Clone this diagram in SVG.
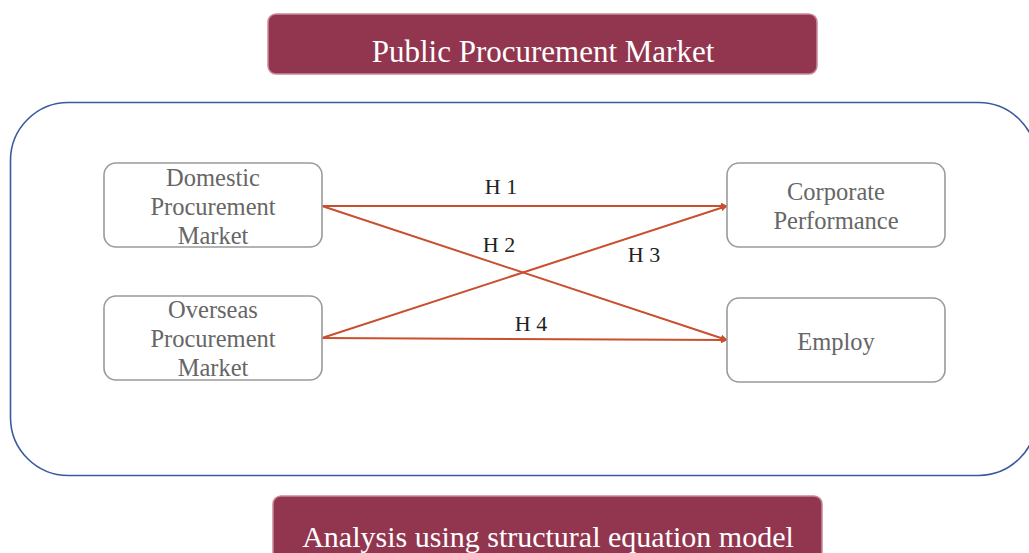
<svg xmlns="http://www.w3.org/2000/svg" width="1029" height="553" viewBox="0 0 1029 553">
<style>
.banner{fill:#92364f;stroke:#c98a9a;stroke-width:1.5}
.btxt{font-family:"Liberation Serif",serif;fill:#ffffff;text-anchor:middle}
.node{fill:#ffffff;stroke:#9a9a9a;stroke-width:1.6}
.ntxt{font-family:"Liberation Serif",serif;font-size:24.5px;fill:#666666;text-anchor:middle}
.edge{stroke:#c9502e;stroke-width:2;fill:none;marker-end:url(#ah)}
.lbl{font-family:"Liberation Serif",serif;font-size:22px;fill:#222222;text-anchor:middle}
</style>
<defs>
<marker id="ah" viewBox="0 0 10 10" refX="9" refY="5" markerWidth="7" markerHeight="7" markerUnits="userSpaceOnUse" orient="auto">
<path d="M0,0 L10,5 L0,10 z" fill="#c9502e"/>
</marker>
</defs>
<rect width="1029" height="553" fill="#ffffff"/>
<g id="frame"><rect x="10.5" y="102.5" width="1026" height="373" rx="58" fill="none" stroke="#3a5a9c" stroke-width="1.6"/></g>
<g id="top-banner"><rect class="banner" x="268" y="14" width="549" height="60" rx="8"/><text class="btxt" x="543" y="62" font-size="31">Public Procurement Market</text></g>
<g id="bottom-banner"><rect class="banner" x="273" y="496" width="549" height="70" rx="8"/><text class="btxt" x="548" y="547" font-size="30">Analysis using structural equation model</text></g>
<g id="connectors">
<line class="edge" x1="322" y1="206" x2="727" y2="206"/>
<line class="edge" x1="322" y1="206" x2="727" y2="340"/>
<line class="edge" x1="322" y1="338" x2="727" y2="206"/>
<line class="edge" x1="322" y1="338" x2="727" y2="340"/>
<text class="lbl" x="501" y="194">H 1</text>
<text class="lbl" x="499" y="252">H 2</text>
<text class="lbl" x="644" y="262">H 3</text>
<text class="lbl" x="531" y="331">H 4</text>
</g>
<g id="domestic"><rect class="node" x="104" y="163" width="218" height="84" rx="12"/><text class="ntxt" x="213" y="186">Domestic</text><text class="ntxt" x="213" y="215">Procurement</text><text class="ntxt" x="213" y="244">Market</text></g>
<g id="overseas"><rect class="node" x="104" y="296" width="218" height="84" rx="12"/><text class="ntxt" x="213" y="318">Overseas</text><text class="ntxt" x="213" y="347">Procurement</text><text class="ntxt" x="213" y="376">Market</text></g>
<g id="corporate"><rect class="node" x="727" y="163" width="218" height="84" rx="12"/><text class="ntxt" x="836" y="200">Corporate</text><text class="ntxt" x="836" y="229">Performance</text></g>
<g id="employ"><rect class="node" x="727" y="298" width="218" height="84" rx="12"/><text class="ntxt" x="836" y="350">Employ</text></g>
</svg>
